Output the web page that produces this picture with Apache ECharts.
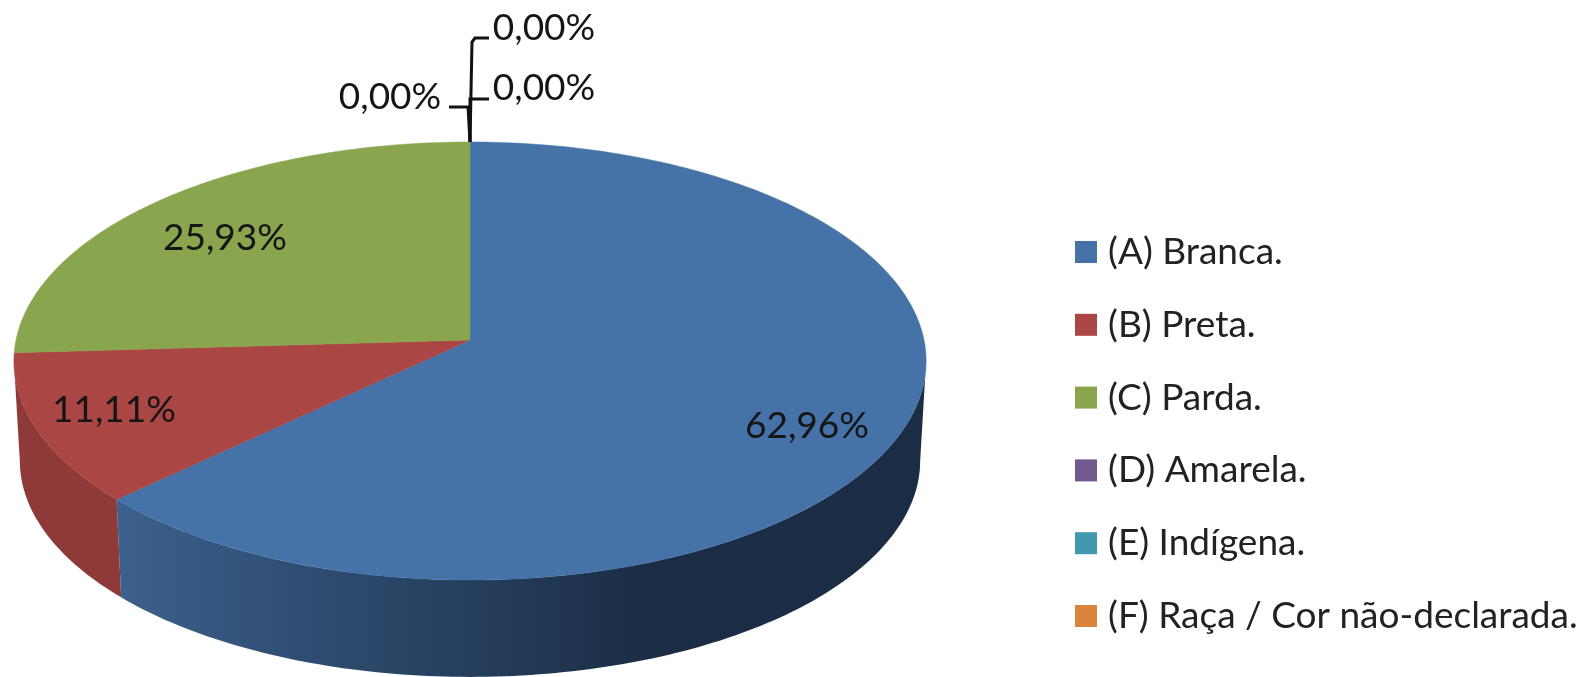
<!DOCTYPE html>
<html>
<head>
<meta charset="utf-8">
<title>Raça / Cor</title>
<script src="https://cdn.jsdelivr.net/npm/echarts@6/dist/echarts.min.js"></script>
<style>
  html, body { margin: 0; padding: 0; background: #fff; }
  #chart { width: 1585px; height: 677px; }
</style>
</head>
<body>
<div id="chart"></div>
<script>
  const categories = ['(A) Branca.', '(B) Preta.', '(C) Parda.', '(D) Amarela.', '(E) Indígena.', '(F) Raça / Cor não-declarada.'];
  const percentages = [62.96, 11.11, 25.93, 0, 0, 0];
  const colors = ['#4572A7', '#AA4643', '#89A54E', '#71588F', '#4198AF', '#DB843D'];

  // where each value label sits, and the bent leader for the empty slices
  const labelAt = [[807, 426], [114, 410], [225, 238], [390, 97], [544, 88], [544, 28]];
  const leaders = [
    null, null, null,
    [[468, 107], [449, 107]],
    [[470, 99], [489, 99]],
    [[472, 42], [475, 38], [489, 38]]
  ];

  // perspective pie: the apex is not the middle of the ellipse
  const cx = 470, cy = 340, R = 454, S = 217, k = 0.0959;
  const depth = 100, shrink = 0.987;
  const total = percentages.reduce((a, b) => a + b, 0);

  function topPoint(deg) {
    const a = deg * Math.PI / 180;
    const u = Math.sin(a), v = -Math.cos(a), w = 1 - k * v;
    return [cx + R * u / w, cy + S * v / w];
  }
  function bottomPoint(deg) {
    const p = topPoint(deg);
    return [cx + (p[0] - cx) * shrink, cy + depth + (p[1] - cy) * shrink];
  }
  function arc(from, to, fn) {
    const pts = [];
    const n = Math.max(1, Math.ceil(Math.abs(to - from)));
    for (let i = 0; i <= n; i++) pts.push(fn(from + (to - from) * i / n));
    return pts;
  }

  const wallFill = [
    { type: 'linear', global: true, x: 121, y: 0, x2: 650, y2: 0,
      colorStops: [{ offset: 0, color: '#3B608B' }, { offset: 0.35, color: '#2F4D72' }, { offset: 1, color: '#1B2D45' }] },
    '#8D3A38'
  ];

  function renderSlice(index) {
    return function (params, api) {
      const value = api.value(0);
      let start = 0;
      for (let i = 0; i < index; i++) start += percentages[i];
      const from = start / total * 360;
      const to = from + value / total * 360;
      const children = [];

      // side wall only on the near half of the disc
      const wallFrom = Math.max(from, 95.5), wallTo = Math.min(to, 264.5);
      if (wallTo > wallFrom) {
        children.push({
          type: 'polygon',
          shape: { points: arc(wallFrom, wallTo, topPoint).concat(arc(wallTo, wallFrom, bottomPoint)) },
          style: { fill: wallFill[index] || colors[index] }
        });
      }
      if (value > 0) {
        children.push({
          type: 'polygon',
          shape: { points: [[cx, cy]].concat(arc(from, to, topPoint)) },
          style: { fill: colors[index], stroke: colors[index], lineWidth: 0.5 }
        });
      }
      if (leaders[index]) {
        children.push({
          type: 'polyline',
          shape: { points: [topPoint(from)].concat(leaders[index]) },
          style: { fill: null, stroke: '#111', lineWidth: 3 },
          z2: 10
        });
      }
      children.push({
        type: 'text',
        z2: 20,
        style: {
          x: labelAt[index][0], y: labelAt[index][1],
          text: value.toFixed(2).replace('.', ',') + '%',
          align: 'center', verticalAlign: 'middle',
          fontFamily: 'Lato', fontSize: 37, fill: '#151515'
        }
      });
      return { type: 'group', children: children };
    };
  }

  const chart = echarts.init(document.getElementById('chart'));
  chart.setOption({
    animation: false,
    legend: {
      orient: 'vertical',
      left: 1075,
      top: 233.5,
      height: 430,
      padding: 0,
      icon: 'rect',
      itemWidth: 22,
      itemHeight: 22,
      itemGap: 35.8,
      selectedMode: false,
      textStyle: { fontFamily: 'Lato', fontSize: 37, color: '#222', padding: [0, 0, 0, 6] },
      data: categories
    },
    series: categories.map((name, i) => ({
      type: 'custom',
      name: name,
      coordinateSystem: 'none',
      silent: true,
      itemStyle: { color: colors[i] },
      renderItem: renderSlice(i),
      data: [[percentages[i]]]
    }))
  });
</script>
</body>
</html>
